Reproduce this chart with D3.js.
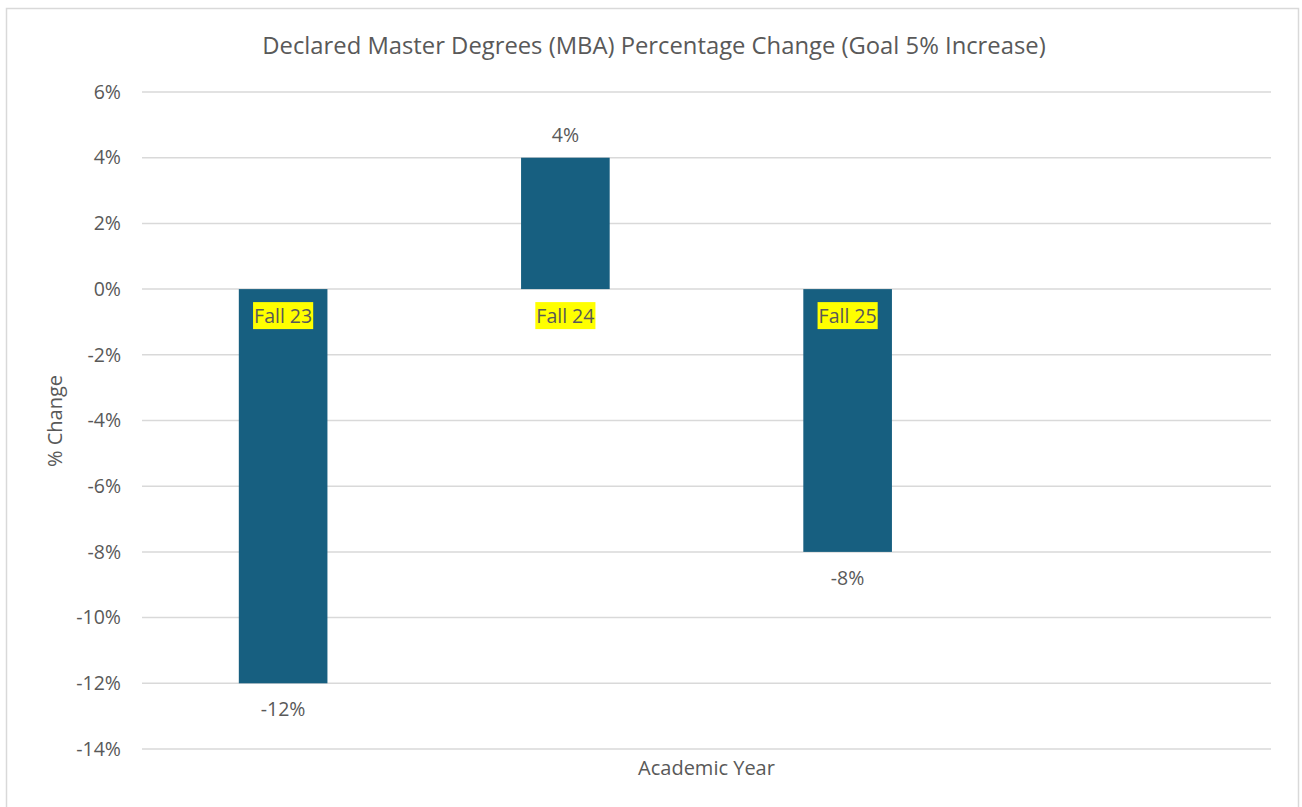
<!DOCTYPE html>
<html>
<head>
<meta charset="utf-8">
<script src="https://cdn.jsdelivr.net/npm/d3@7"></script>
<style>
  body { margin: 0; background: #fff; }
  text { font-family: "Open Sans", "Noto Sans", sans-serif; fill: #595959; }
</style>
</head>
<body>
<div id="chart"></div>
<script>
// data
var categories = ["Fall 23", "Fall 24", "Fall 25", ""];
var values = [-12, 4, -8, null];
var yTicks = [6, 4, 2, 0, -2, -4, -6, -8, -10, -12, -14];

var width = 1302, height = 807;
var margin = { left: 142, right: 31, top: 92, bottom: 58 };

var svg = d3.select("#chart").append("svg")
  .attr("width", width).attr("height", height);

// chart border
svg.append("rect")
  .attr("x", 6.5).attr("y", 8.5)
  .attr("width", 1292).attr("height", 820)
  .attr("fill", "#fff").attr("stroke", "#d9d9d9").attr("stroke-width", 1.5);

var x = d3.scaleBand()
  .domain(d3.range(categories.length))
  .range([margin.left, width - margin.right])
  .paddingInner(0.686).paddingOuter(0.343);

var y = d3.scaleLinear()
  .domain([-14, 6])
  .range([height - margin.bottom, margin.top]);

// gridlines
svg.append("g").selectAll("line")
  .data(yTicks)
  .enter().append("line")
  .attr("x1", margin.left).attr("x2", width - margin.right)
  .attr("y1", function(d){ return y(d); })
  .attr("y2", function(d){ return y(d); })
  .attr("stroke", "#d9d9d9").attr("stroke-width", 1.5);

// y axis labels
var yAxis = d3.axisLeft(y).tickValues(yTicks).tickSize(0).tickPadding(21)
  .tickFormat(function(d){ return d + "%"; });
var ya = svg.append("g").attr("transform", "translate(" + margin.left + ",0)").call(yAxis);
ya.select(".domain").remove();
ya.selectAll("text").attr("font-size", 19.5).attr("fill", "#595959")
  .style("font-family", "'Open Sans', sans-serif");

// bars
var bars = categories.map(function(c, i){ return { i: i, cat: c, v: values[i] }; })
  .filter(function(d){ return d.v !== null; });

svg.append("g").selectAll("rect")
  .data(bars)
  .enter().append("rect")
  .attr("x", function(d){ return x(d.i); })
  .attr("width", x.bandwidth())
  .attr("y", function(d){ return y(Math.max(0, d.v)); })
  .attr("height", function(d){ return Math.abs(y(d.v) - y(0)); })
  .attr("fill", "#175f80");

// value labels
svg.append("g").selectAll("text")
  .data(bars)
  .enter().append("text")
  .attr("x", function(d){ return x(d.i) + x.bandwidth() / 2; })
  .attr("y", function(d){ return d.v >= 0 ? y(d.v) - 16 : y(d.v) + 33; })
  .attr("text-anchor", "middle")
  .attr("font-size", 19.5)
  .attr("fill", "#404040")
  .text(function(d){ return d.v + "%"; });

// category labels with yellow highlight, sitting just under the zero line
var cat = svg.append("g").selectAll("g")
  .data(bars)
  .enter().append("g")
  .attr("transform", function(d){
    return "translate(" + (x(d.i) + x.bandwidth() / 2) + "," + (y(0) + 34) + ")";
  });
cat.append("text")
  .attr("text-anchor", "middle")
  .attr("font-size", 19.5)
  .attr("fill", "#595959")
  .text(function(d){ return d.cat; })
  .each(function(){
    var b = this.getBBox();
    d3.select(this.parentNode).insert("rect", "text")
      .attr("x", b.x - 1).attr("y", -21)
      .attr("width", b.width + 2).attr("height", 27)
      .attr("fill", "#ffff00");
  });

// title
svg.append("text")
  .attr("x", 654).attr("y", 54)
  .attr("text-anchor", "middle")
  .attr("font-size", 23.8)
  .attr("fill", "#595959")
  .text("Declared Master Degrees (MBA) Percentage Change (Goal 5% Increase)");

// axis titles
svg.append("text")
  .attr("x", (margin.left + width - margin.right) / 2).attr("y", 775)
  .attr("text-anchor", "middle")
  .attr("font-size", 20)
  .text("Academic Year");

svg.append("text")
  .attr("transform", "translate(62,421) rotate(-90)")
  .attr("text-anchor", "middle")
  .attr("font-size", 20)
  .text("% Change");
</script>
</body>
</html>
